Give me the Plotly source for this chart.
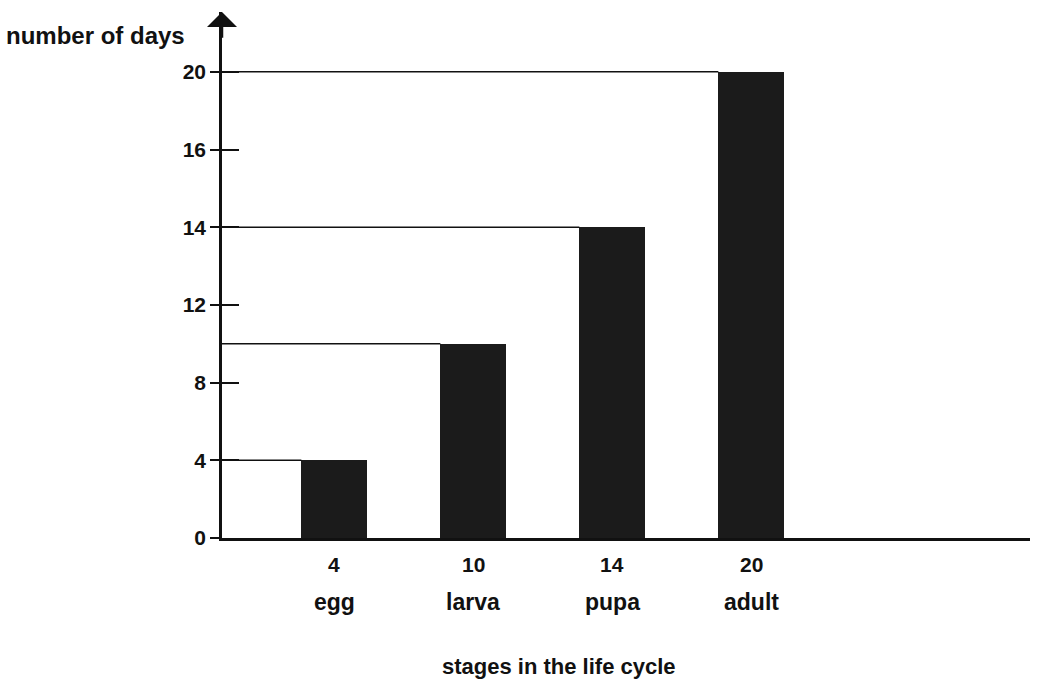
import numpy as np
import plotly.graph_objects as go

# ---- data ----
stages = ["egg", "larva", "pupa", "adult"]
days = [4, 10, 14, 20]
y_tick_labels = [0, 4, 8, 12, 14, 16, 20]   # as printed on the chart's (non-uniform) axis
x_title = "stages in the life cycle"
y_title = "number of days"

# the printed axis places its labels at equal spacing; map values onto that scale
tick_index = list(range(len(y_tick_labels)))
y_pos = np.interp(days, y_tick_labels, tick_index)
x_idx = list(range(len(stages)))

BAR_W = 0.47
X_RANGE = [-0.806, 5.007]
Y_RANGE = [0, 6.77]
FONT = "Liberation Sans"
INK = "#111111"

fig = go.Figure()
fig.add_trace(go.Bar(
    x=x_idx, y=y_pos, width=BAR_W,
    marker=dict(color="#1b1b1b", line=dict(width=0)),
    customdata=days, hovertext=stages,
    hovertemplate="%{hovertext}: %{customdata} days<extra></extra>",
    showlegend=False,
))
# invisible trace so the inside-tick overlay axis renders
fig.add_trace(go.Scatter(x=[x_idx[0]], y=[0], yaxis="y2", mode="markers",
                         marker=dict(opacity=0), hoverinfo="skip", showlegend=False))

shapes = []
for xi, yp in zip(x_idx, y_pos):
    shapes.append(dict(type="line", xref="x", yref="y",
                       x0=X_RANGE[0], x1=xi - BAR_W / 2, y0=yp, y1=yp,
                       line=dict(color=INK, width=1.5)))

annotations = []
for xi, d, s in zip(x_idx, days, stages):
    annotations.append(dict(x=xi, xref="x", y=0, yref="paper", yshift=-26,
                            text=f"<b>{d}</b>", showarrow=False, yanchor="middle",
                            font=dict(family=FONT, size=21, color=INK)))
    annotations.append(dict(x=xi, xref="x", y=0, yref="paper", yshift=-64,
                            text=f"<b>{s}</b>", showarrow=False, yanchor="middle",
                            font=dict(family=FONT, size=23, color=INK)))
annotations.append(dict(x=0.5 * (X_RANGE[0] + X_RANGE[1]) - 0.48, xref="x", y=0, yref="paper",
                        yshift=-128, text=f"<b>{x_title}</b>", showarrow=False,
                        yanchor="middle", font=dict(family=FONT, size=22, color=INK)))
annotations.append(dict(x=0, xref="paper", y=Y_RANGE[1] - 0.3, yref="y", xshift=-35,
                        text=f"<b>{y_title}</b>", showarrow=False, xanchor="right",
                        yanchor="middle", font=dict(family=FONT, size=24, color=INK)))
# arrow head at top of the y axis
annotations.append(dict(x=X_RANGE[0], xref="x", y=Y_RANGE[1], yref="y",
                        ax=X_RANGE[0], axref="x", ay=Y_RANGE[1] - 0.35, ayref="y",
                        showarrow=True, arrowhead=1, arrowsize=2.0, arrowwidth=2.5,
                        arrowcolor=INK, text=""))

fig.update_layout(
    width=1037, height=680,
    margin=dict(l=222, r=7, t=12, b=142),
    paper_bgcolor="white", plot_bgcolor="white",
    shapes=shapes, annotations=annotations,
    bargap=0,
    xaxis=dict(range=X_RANGE, showgrid=False, zeroline=False, showticklabels=False,
               ticks="", showline=True, linecolor=INK, linewidth=2.5, fixedrange=True),
    yaxis=dict(range=Y_RANGE, showgrid=False, zeroline=False,
               tickvals=tick_index, ticktext=[f"<b>{t}</b>" for t in y_tick_labels],
               ticks="outside", ticklen=9, tickwidth=2, tickcolor=INK,
               showline=True, linecolor=INK, linewidth=2.5,
               tickfont=dict(family=FONT, size=21, color=INK), fixedrange=True),
    yaxis2=dict(range=Y_RANGE, overlaying="y", side="left", anchor="x",
                tickvals=tick_index, showticklabels=False, ticks="inside",
                ticklen=17, tickwidth=2, tickcolor=INK, showgrid=False,
                zeroline=False, showline=False, fixedrange=True),
)

fig.write_html("out.html", config={"displayModeBar": False},
               post_script="document.body.style.margin='0';document.body.style.overflow='hidden';")
